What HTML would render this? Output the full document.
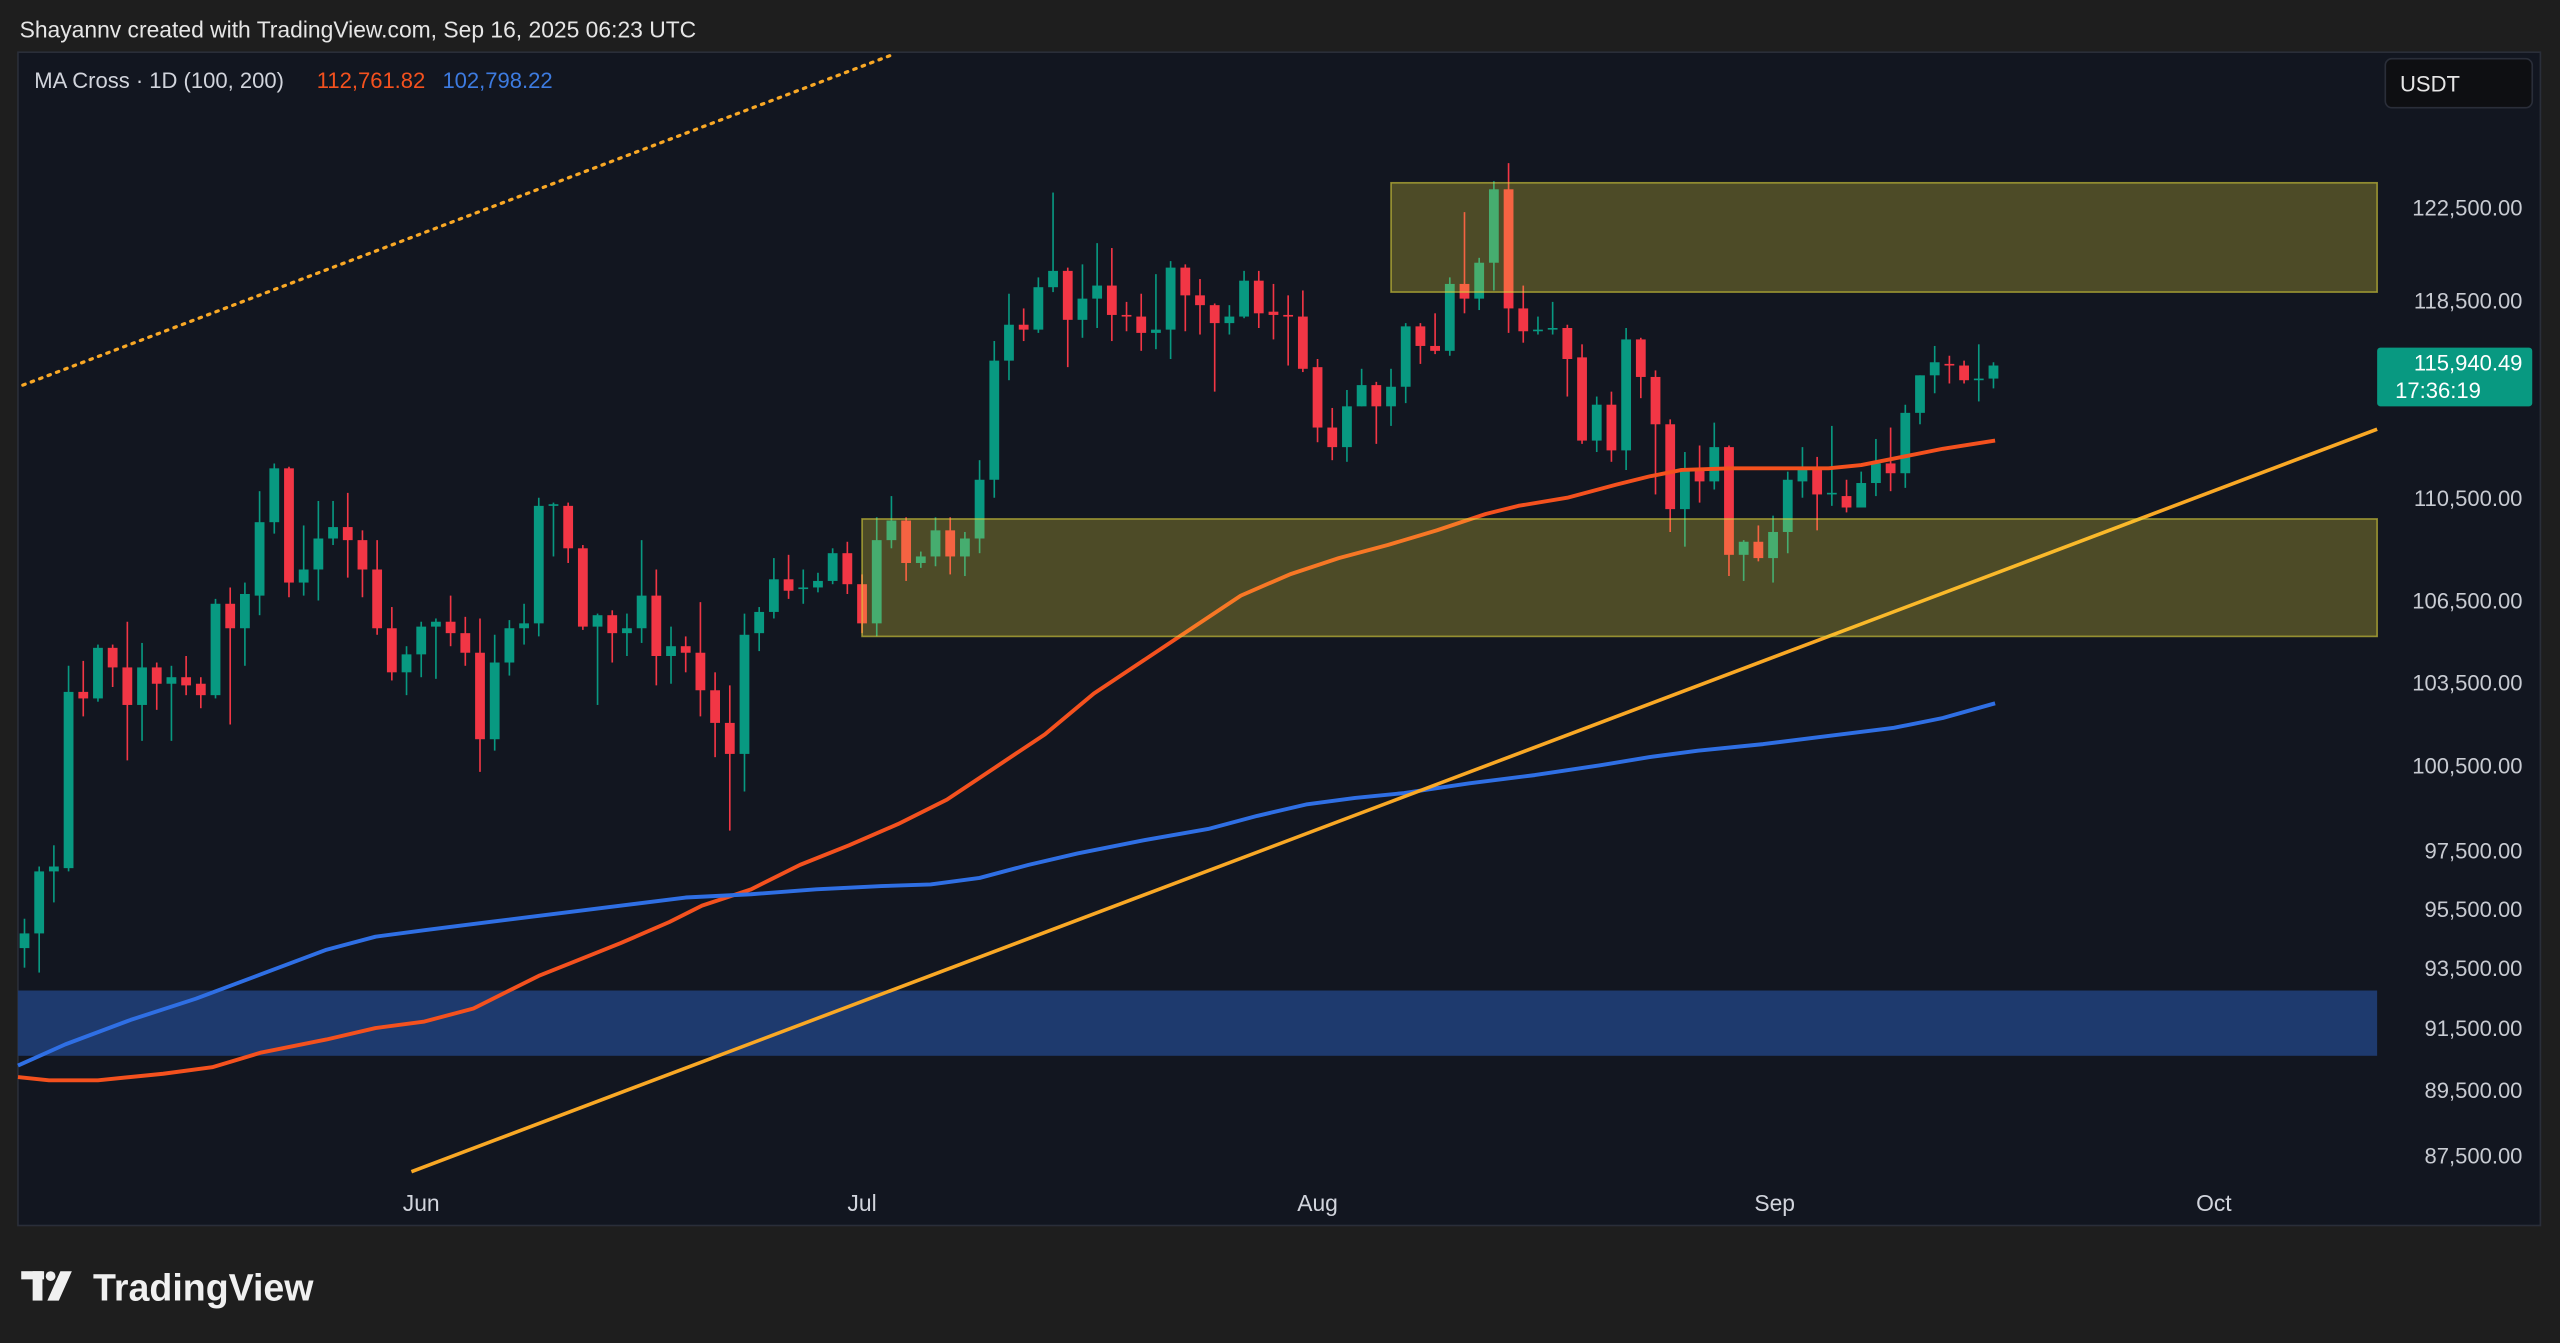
<!DOCTYPE html>
<html><head><meta charset="utf-8"><style>
html,body{margin:0;padding:0;background:#1e1e1e;overflow:hidden}
svg{display:block}
text{font-family:"Liberation Sans",sans-serif}
</style></head><body>
<svg id="s" width="2560" height="1343" viewBox="0 0 1568 823" preserveAspectRatio="none" xmlns="http://www.w3.org/2000/svg">
<rect x="0" y="0" width="1568" height="823" fill="#1e1e1e"/>
<text x="12" y="23" font-size="14" fill="#e6e6e6">Shayannv created with TradingView.com, Sep 16, 2025 06:23 UTC</text>
<rect x="11" y="32" width="1545" height="719" fill="#121620" stroke="#2a2e39" stroke-width="1"/>
<rect x="11" y="607" width="1445" height="40" fill="#1e3a6e"/>
<line x1="14" y1="236" x2="548" y2="33" stroke="#f9a825" stroke-width="2" stroke-dasharray="1.5,4" stroke-linecap="round"/>
<g id="candles"></g>
<polyline id="ma1" fill="none" stroke="#f4511e" stroke-width="2.4" stroke-linejoin="round"/>
<polyline id="ma2" fill="none" stroke="#2f6fe4" stroke-width="2.4" stroke-linejoin="round"/>
<line x1="252" y1="718" x2="1456" y2="263" stroke="#f9a825" stroke-width="2.2"/>
<rect x="852" y="112" width="604" height="67" fill="rgba(255,235,59,0.25)" stroke="rgba(220,210,60,0.6)" stroke-width="1"/>
<rect x="528" y="318" width="928" height="72" fill="rgba(255,235,59,0.25)" stroke="rgba(220,210,60,0.6)" stroke-width="1"/>
<text x="21" y="54" font-size="13.5" fill="#d1d4dc">MA Cross · 1D (100, 200)</text>
<text x="194" y="54" font-size="13.5" fill="#f4511e">112,761.82</text>
<text x="271" y="54" font-size="13.5" fill="#3d7be0">102,798.22</text>
<rect x="1461" y="36" width="90" height="30" rx="4" fill="#0e0f12" stroke="#2a2e39"/>
<text x="1470" y="56" font-size="13.5" fill="#e6e6e6">USDT</text>
<g font-size="13.5" fill="#c8cbd2" text-anchor="end">
<text x="1545" y="132">122,500.00</text>
<text x="1545" y="189">118,500.00</text>
<text x="1545" y="310">110,500.00</text>
<text x="1545" y="373">106,500.00</text>
<text x="1545" y="423">103,500.00</text>
<text x="1545" y="474">100,500.00</text>
<text x="1545" y="526">97,500.00</text>
<text x="1545" y="562">95,500.00</text>
<text x="1545" y="598">93,500.00</text>
<text x="1545" y="635">91,500.00</text>
<text x="1545" y="673">89,500.00</text>
<text x="1545" y="713">87,500.00</text>
</g>
<rect x="1456" y="213" width="95" height="36" rx="2" fill="#089981"/>
<text x="1545" y="227" font-size="13.5" fill="#ffffff" text-anchor="end">115,940.49</text>
<text x="1467" y="244" font-size="13.5" fill="#ffffff">17:36:19</text>
<g font-size="14" fill="#d1d4dc" text-anchor="middle">
<text x="258" y="742">Jun</text>
<text x="528" y="742">Jul</text>
<text x="807" y="742">Aug</text>
<text x="1087" y="742">Sep</text>
<text x="1356" y="742">Oct</text>
</g>
<g fill="#f0f0f0">
<rect x="13" y="779" width="14" height="5"/>
<rect x="20" y="779" width="6" height="18"/>
<circle cx="31" cy="782" r="3"/>
<polygon points="37,779 44,779 36,797 29,797"/>
</g>
<text x="57" y="797" font-size="23" font-weight="bold" fill="#f0f0f0">TradingView</text>
</svg>
<script>
var D=[
['g',572,581,563,593],['g',534,572,531,596],['g',531,534,518,553],['g',424,532,408,534],['r',424,428,405,439],
['g',397,428,395,430],['r',397,409,395,421],['r',409,432,381,466],['g',409,432,394,454],['r',409,419,406,435],
['g',415,419,408,454],['r',415,420,402,426],['r',419,426,415,434],['g',370,426,367,428],['r',370,385,360,444],
['g',364,385,357,408],['g',320,365,301,377],['g',287,320,284,327],['r',287,357,286,366],['g',349,357,322,365],
['g',330,349,307,368],['g',323,330,307,334],['r',323,331,302,354],['r',331,349,325,366],['r',349,385,331,389],
['r',385,412,372,417],['g',401,412,396,426],['g',384,401,381,415],['g',381,384,379,416],['r',381,388,365,396],
['r',388,400,378,408],['r',400,453,379,473],['g',406,453,389,460],['g',385,406,380,414],['g',382,385,370,395],
['g',310,382,305,390],['g',309,310,308,341],['r',310,336,308,345],['r',336,384,334,386],['g',377,384,376,432],
['r',377,388,374,406],['g',385,388,376,402],['g',365,385,331,394],['r',365,402,349,420],['g',396,402,384,419],
['r',396,400,390,412],['r',400,423,369,439],['r',423,443,412,464],['r',443,462,420,509],['g',389,462,376,485],
['g',375,388,372,399],['g',355,375,342,379],['r',355,362,340,367],['g',360,361,349,370],['g',356,360,351,363],
['g',339,356,336,358],['r',339,358,332,364],['r',358,382,352,388],['g',331,382,317,390],['g',319,331,304,336],
['r',319,345,317,356],['g',341,345,338,348],['g',325,341,317,347],['r',325,341,317,352],['g',330,341,326,353],
['g',294,330,282,339],['g',221,294,209,305],['g',199,221,180,233],['r',199,202,189,209],['g',176,202,170,204],
['g',166,176,118,179],['r',166,196,164,225],['g',183,196,162,207],['g',175,183,149,201],['r',175,193,152,209],
['r',193,194,185,203],['r',194,204,180,215],['g',202,204,168,214],['g',164,202,160,220],['r',164,181,162,203],
['r',181,187,171,205],['r',187,198,186,240],['g',194,198,187,205],['g',172,194,166,195],['r',172,192,166,201],
['r',191,193,174,208],['r',193,194,181,224],['r',194,226,178,228],['r',225,262,220,271],['r',262,274,250,282],
['g',249,274,239,283],['g',236,249,226,249],['r',236,249,234,272],['g',237,249,226,261],['g',200,237,198,247],
['r',200,212,198,223],['r',212,215,192,217],['g',174,215,170,218],['r',174,183,130,192],['g',161,183,158,190],
['g',116,161,111,178],['r',116,189,100,204],['r',189,203,175,210],['g',202,203,194,205],['g',201,202,185,205],
['r',201,220,199,243],['r',219,270,211,272],['g',248,270,243,277],['r',248,276,240,283],['g',208,276,201,288],
['r',208,231,207,244],['r',231,260,227,303],['r',260,312,257,326],['g',287,312,277,335],['r',287,295,273,308],
['g',274,295,259,300],['r',274,340,273,353],['g',332,340,331,356],['r',332,342,322,344],['g',326,342,316,357],
['g',294,326,289,339],['g',288,295,274,305],['r',287,303,280,325],['g',302,303,261,310],['r',304,311,294,314],
['g',296,311,289,311],['g',284,296,269,304],['r',284,290,262,301],['g',253,290,248,299],['g',230,253,230,260],
['g',222,230,212,241],['r',223,224,218,235],['r',224,233,221,235],['g',232,233,211,246],['g',224,232,222,238]
];
var g=document.getElementById('candles'),h='';
for(var i=0;i<D.length;i++){var d=D[i],x=15+i*9,c=d[0]=='g'?'#089981':'#f23645';
var t=d[1],b=Math.max(d[2],d[1]+1);
h+='<line x1="'+x+'" y1="'+d[3]+'" x2="'+x+'" y2="'+d[4]+'" stroke="'+c+'" stroke-width="1"/>';
h+='<rect x="'+(x-3)+'" y="'+t+'" width="6" height="'+(b-t)+'" fill="'+c+'"/>';}
g.innerHTML=h;
document.getElementById('ma1').setAttribute('points','11,660 30,662 60,662 100,658 130,654 160,645 200,637 230,630 260,626 290,618 310,608 330,598 350,590 380,578 410,565 430,555 460,545 490,530 520,518 550,505 580,490 610,470 640,450 670,425 700,405 730,385 760,365 790,352 820,342 850,334 880,325 910,315 930,310 960,305 990,297 1010,292 1030,288 1060,287 1090,287 1120,287 1140,285 1160,281 1190,275 1222,270');
document.getElementById('ma2').setAttribute('points','11,653 40,640 80,625 120,612 160,597 200,582 230,574 260,570 300,565 340,560 380,555 420,550 460,548 500,545 540,543 570,542 600,538 630,530 660,523 700,515 740,508 770,500 800,493 830,489 860,486 900,480 940,475 980,469 1010,464 1040,460 1080,456 1120,451 1160,446 1190,440 1222,431');
</script>
</body></html>
